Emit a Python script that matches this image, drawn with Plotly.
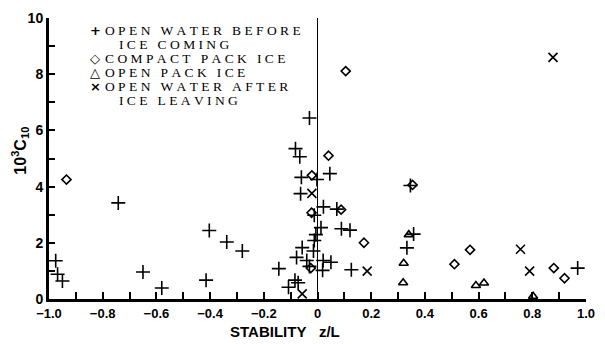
import plotly.graph_objects as go

# ---- data ----
before_x = [-0.975, -0.968, -0.950, -0.742, -0.650, -0.580, -0.415, -0.403, -0.338, -0.280,
            -0.144, -0.108, -0.084, -0.072, -0.078, -0.057, -0.040, -0.030, -0.015, -0.012,
            -0.006, 0.013, 0.019, 0.021, 0.050, 0.126, 0.089, 0.121, 0.022, -0.012,
            -0.082, -0.066, -0.060, -0.063, -0.030, -0.002, 0.046, 0.333, 0.358, 0.346,
            0.969, 0.072]
before_y = [1.36, 0.88, 0.64, 3.42, 0.96, 0.39, 0.67, 2.44, 2.03, 1.71,
            1.08, 0.42, 0.67, 0.58, 1.48, 1.83, 1.37, 1.16, 1.71, 2.08,
            2.29, 2.54, 1.02, 1.37, 1.31, 1.04, 2.50, 2.45, 3.28, 2.98,
            5.35, 5.06, 4.33, 3.75, 6.44, 4.25, 4.46, 1.82, 2.31, 4.04,
            1.10, 3.20]

compact_x = [-0.935, -0.021, 0.041, 0.105, -0.022, 0.088, -0.025, 0.173, 0.354, 0.510, 0.568, 0.880, 0.920]
compact_y = [4.25, 4.40, 5.10, 8.11, 3.07, 3.18, 1.10, 2.00, 4.06, 1.24, 1.75, 1.10, 0.74]

openpack_x = [0.340, 0.321, 0.319, 0.590, 0.620, 0.803]
openpack_y = [2.29, 1.27, 0.58, 0.48, 0.57, 0.10]

after_x = [-0.057, -0.021, 0.185, 0.756, 0.790, 0.877]
after_y = [0.18, 3.76, 0.99, 1.77, 0.99, 8.60]

x_tick_vals = [-1.0, -0.8, -0.6, -0.4, -0.2, 0.0, 0.2, 0.4, 0.6, 0.8, 1.0]
x_tick_labels = ["\u22121.0", "\u22120.8", "\u22120.6", "\u22120.4", "\u22120.2", "0",
                 "0.2", "0.4", "0.6", "0.8", "1.0"]
y_tick_vals = [0, 2, 4, 6, 8, 10]
y_tick_labels = ["0", "2", "4", "6", "8", "10"]

legend_lines = [
    ("+", "OPEN WATER BEFORE"),
    ("", "ICE COMING"),
    ("◇", "COMPACT PACK ICE"),
    ("△", "OPEN PACK ICE"),
    ("×", "OPEN WATER AFTER"),
    ("", "ICE LEAVING"),
]

# ---- figure ----
fig = go.Figure()
mk_line = dict(color="black", width=1.6)
fig.add_trace(go.Scatter(x=before_x, y=before_y, mode="markers",
                         marker=dict(symbol="cross-thin-open", size=10, color="black", line=mk_line)))
fig.add_trace(go.Scatter(x=compact_x, y=compact_y, mode="markers",
                         marker=dict(symbol="diamond-open", size=7, color="black", line=mk_line)))
fig.add_trace(go.Scatter(x=openpack_x, y=openpack_y, mode="markers",
                         marker=dict(symbol="triangle-up-open", size=8, color="black", line=mk_line)))
fig.add_trace(go.Scatter(x=after_x, y=after_y, mode="markers",
                         marker=dict(symbol="x-thin-open", size=9, color="black", line=mk_line)))

W, H = 605, 344
L, R, T, B = 49, 11, 10, 45
FX0, FX1, FY0, FY1 = L, W - R, T, H - B


def px2paper(px, py):
    return (px - FX0) / (FX1 - FX0), (FY1 - py) / (FY1 - FY0)


def spaced(s):
    words = s.split(" ")
    return "\u00a0\u00a0\u00a0".join("\u00a0".join(list(w)) for w in words)


annotations = []
line_y = [23, 37, 52, 66.5, 80.5, 94.5]
for (sym, txt), py in zip(legend_lines, line_y):
    if sym:
        sx, sy = px2paper(96, py)
        annotations.append(dict(x=sx, y=sy, xref="paper", yref="paper", text="<b>" + sym + "</b>",
                                showarrow=False, xanchor="center", yanchor="middle",
                                font=dict(family="DejaVu Sans", size=13, color="black")))
        tx, ty = px2paper(104, py)
    else:
        tx, ty = px2paper(118, py)
    annotations.append(dict(x=tx, y=ty, xref="paper", yref="paper", text=spaced(txt),
                            showarrow=False, xanchor="left", yanchor="middle",
                            font=dict(family="Liberation Serif", size=13.5, color="black")))

# axis titles
ax_, ay_ = px2paper(289, 332)
annotations.append(dict(x=ax_, y=ay_, xref="paper", yref="paper",
                        text="<b>STABILITY\u00a0\u00a0 z/L</b>", showarrow=False,
                        xanchor="center", yanchor="middle",
                        font=dict(family="Liberation Sans", size=15, color="black")))
yx_, yy_ = px2paper(20, 146)
annotations.append(dict(x=yx_, y=yy_, xref="paper", yref="paper",
                        text="<b>10<sup>3</sup>C<sub>10</sub></b>", showarrow=False,
                        textangle=-90, xanchor="center", yanchor="middle",
                        font=dict(family="Liberation Sans", size=16, color="black")))

fig.update_layout(
    width=W, height=H,
    margin=dict(l=L, r=R, t=T, b=B),
    paper_bgcolor="white", plot_bgcolor="white",
    showlegend=False,
    annotations=annotations,
    xaxis=dict(range=[-1, 1], tickvals=x_tick_vals, ticktext=x_tick_labels,
               ticks="inside", ticklen=7, tickwidth=2, tickcolor="black",
               minor=dict(dtick=0.1, ticks="inside", ticklen=7, tickwidth=2, tickcolor="black"),
               showline=True, linecolor="black", linewidth=3,
               showgrid=False, zeroline=True, zerolinecolor="black", zerolinewidth=1.3,
               tickfont=dict(family="Liberation Sans", size=13, color="black", weight="bold"),
               ticklabeloverflow="allow",
               fixedrange=True),
    yaxis=dict(range=[0, 10], tickvals=y_tick_vals, ticktext=y_tick_labels,
               ticks="inside", ticklen=6, tickwidth=2, tickcolor="black",
               minor=dict(dtick=1, ticks="inside", ticklen=6, tickwidth=2, tickcolor="black"),
               showline=True, linecolor="black", linewidth=3,
               showgrid=False, zeroline=False,
               tickfont=dict(family="Liberation Sans", size=14, color="black", weight="bold"),
               ticklabeloverflow="allow",
               fixedrange=True),
)

fig.write_html("out.html")
